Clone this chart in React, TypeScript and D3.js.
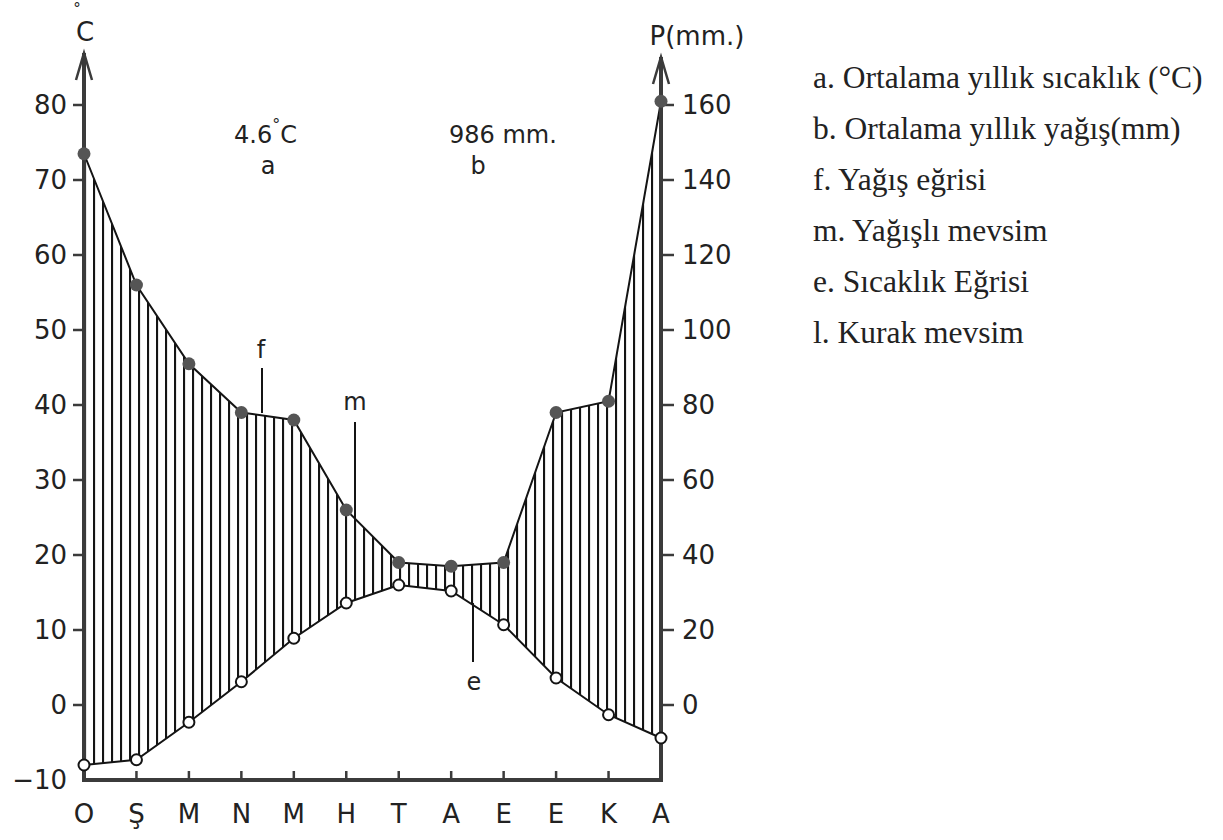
import React, { useRef, useEffect } from "react";
import * as d3 from "d3";

// Walter-Lieth style climate diagram (P = 2T)
const months = ["O", "Ş", "M", "N", "M", "H", "T", "A", "E", "E", "K", "A"];
const temperature = [-8, -7.3, -2.3, 3.1, 8.9, 13.6, 16, 15.2, 10.7, 3.6, -1.3, -4.4];
const precipitation = [147, 112, 91, 78, 76, 52, 38, 37, 38, 78, 81, 161];
const tempTicks = [-10, 0, 10, 20, 30, 40, 50, 60, 70, 80];
const precipTicks = [0, 20, 40, 60, 80, 100, 120, 140, 160];
const meanTemp = "4.6";
const annualPrecip = "986";
const legendItems = [
  "a. Ortalama yıllık sıcaklık (°C)",
  "b. Ortalama yıllık yağış(mm)",
  "f. Yağış eğrisi",
  "m. Yağışlı mevsim",
  "e. Sıcaklık Eğrisi",
  "l. Kurak mevsim",
];

const App = () => {
  const svgRef = useRef<SVGSVGElement>(null);
  const width = 1223;
  const height = 840;

  useEffect(() => {
    const svg = d3.select(svgRef.current);
    svg.selectAll("*").remove();

    const sans = "'DejaVu Sans', sans-serif";
    const serif = "'Liberation Serif', 'Times New Roman', serif";
    const axisColor = "#3b3b3b";
    const ink = "#141414";

    const x = d3.scaleLinear().domain([0, months.length - 1]).range([84, 661]);
    const yT = d3.scaleLinear().domain([-10, 80]).range([780, 105]);
    const yP = d3.scaleLinear().domain([0, 160]).range([705, 105]);

    svg.append("rect").attr("width", width).attr("height", height).attr("fill", "#fff");

    // vertical hatching between the two curves
    const pat = svg
      .append("defs")
      .append("pattern")
      .attr("id", "hatch")
      .attr("patternUnits", "userSpaceOnUse")
      .attr("x", 84)
      .attr("y", 0)
      .attr("width", 9)
      .attr("height", 10);
    pat
      .append("line")
      .attr("x1", 1)
      .attr("x2", 1)
      .attr("y1", 0)
      .attr("y2", 10)
      .attr("stroke", ink)
      .attr("stroke-width", 2.2);

    const area = d3
      .area<number>()
      .x((_, i) => x(i))
      .y0((_, i) => yT(temperature[i]))
      .y1((d) => yP(d));
    svg.append("path").datum(precipitation).attr("d", area).attr("fill", "url(#hatch)");

    const tempLine = d3
      .line<number>()
      .x((_, i) => x(i))
      .y((d) => yT(d));
    const precipLine = d3
      .line<number>()
      .x((_, i) => x(i))
      .y((d) => yP(d));

    svg
      .append("path")
      .datum(temperature)
      .attr("d", tempLine)
      .attr("fill", "none")
      .attr("stroke", ink)
      .attr("stroke-width", 2);
    svg
      .append("path")
      .datum(precipitation)
      .attr("d", precipLine)
      .attr("fill", "none")
      .attr("stroke", ink)
      .attr("stroke-width", 2);

    // axes
    const [x0, x1] = x.range();
    svg
      .append("path")
      .attr("d", `M${x0 - 2},${yT(-10)}H${x1 + 2}`)
      .attr("stroke", axisColor)
      .attr("stroke-width", 4)
      .attr("fill", "none");
    svg
      .append("path")
      .attr("d", `M${x0},${yT(-10) + 2}V53`)
      .attr("stroke", axisColor)
      .attr("stroke-width", 4)
      .attr("fill", "none");
    svg
      .append("path")
      .attr("d", `M${x1},${yT(-10) + 2}V57`)
      .attr("stroke", axisColor)
      .attr("stroke-width", 4)
      .attr("fill", "none");
    svg
      .append("path")
      .attr("d", `M${x0 - 8},80L${x0},53L${x0 + 8},80`)
      .attr("stroke", axisColor)
      .attr("stroke-width", 2.5)
      .attr("fill", "none");
    svg
      .append("path")
      .attr("d", `M${x1 - 8},84L${x1},57L${x1 + 8},84`)
      .attr("stroke", axisColor)
      .attr("stroke-width", 2.5)
      .attr("fill", "none");

    // left ticks (°C)
    const fmt = d3.format("d");
    svg
      .append("g")
      .selectAll("line")
      .data(tempTicks.filter((v) => v > -10))
      .join("line")
      .attr("x1", x0 - 11)
      .attr("x2", x0)
      .attr("y1", (d) => yT(d))
      .attr("y2", (d) => yT(d))
      .attr("stroke", axisColor)
      .attr("stroke-width", 2.5);
    svg
      .append("g")
      .selectAll("text")
      .data(tempTicks)
      .join("text")
      .attr("x", x0 - 17)
      .attr("y", (d) => yT(d))
      .attr("dy", "0.36em")
      .attr("text-anchor", "end")
      .attr("font-family", sans)
      .attr("font-size", 26)
      .attr("fill", "#222")
      .text((d) => fmt(d));

    // right ticks (mm)
    svg
      .append("g")
      .selectAll("line")
      .data(precipTicks)
      .join("line")
      .attr("x1", x1)
      .attr("x2", x1 + 13)
      .attr("y1", (d) => yP(d))
      .attr("y2", (d) => yP(d))
      .attr("stroke", axisColor)
      .attr("stroke-width", 2.5);
    svg
      .append("g")
      .selectAll("text")
      .data(precipTicks)
      .join("text")
      .attr("x", x1 + 21)
      .attr("y", (d) => yP(d))
      .attr("dy", "0.36em")
      .attr("font-family", sans)
      .attr("font-size", 26)
      .attr("fill", "#222")
      .text((d) => fmt(d));

    // month ticks and labels
    svg
      .append("g")
      .selectAll("line")
      .data(months.slice(1, -1))
      .join("line")
      .attr("x1", (_, i) => x(i + 1))
      .attr("x2", (_, i) => x(i + 1))
      .attr("y1", yT(-10))
      .attr("y2", yT(-10) - 9)
      .attr("stroke", axisColor)
      .attr("stroke-width", 2.5);
    svg
      .append("g")
      .selectAll("text")
      .data(months)
      .join("text")
      .attr("x", (_, i) => x(i))
      .attr("y", 823)
      .attr("text-anchor", "middle")
      .attr("font-family", sans)
      .attr("font-size", 26)
      .attr("fill", "#222")
      .text((d) => d);

    // axis titles
    svg.append("text").attr("x", x0 + 1).attr("y", 41).attr("text-anchor", "middle")
      .attr("font-family", sans).attr("font-size", 26).attr("fill", "#222").text("C");
    svg.append("text").attr("x", x0 - 7).attr("y", 14).attr("text-anchor", "middle")
      .attr("font-family", sans).attr("font-size", 15).attr("fill", "#222").text("°");
    svg.append("text").attr("x", x1 + 36).attr("y", 45).attr("text-anchor", "middle")
      .attr("font-family", sans).attr("font-size", 26).attr("fill", "#222").text("P(mm.)");

    // points
    svg
      .append("g")
      .selectAll("circle")
      .data(precipitation)
      .join("circle")
      .attr("cx", (_, i) => x(i))
      .attr("cy", (d) => yP(d))
      .attr("r", 6.5)
      .attr("fill", "#555");
    svg
      .append("g")
      .selectAll("circle")
      .data(temperature)
      .join("circle")
      .attr("cx", (_, i) => x(i))
      .attr("cy", (d) => yT(d))
      .attr("r", 5.5)
      .attr("fill", "#fff")
      .attr("stroke", ink)
      .attr("stroke-width", 2);

    // annotations
    const note = (tx: number, ty: number, s: string, anchor = "middle") =>
      svg.append("text").attr("x", tx).attr("y", ty).attr("text-anchor", anchor)
        .attr("font-family", sans).attr("font-size", 24).attr("fill", "#222").text(s);
    const mt = svg.append("text").attr("x", 234).attr("y", 143)
      .attr("font-family", sans).attr("font-size", 24).attr("fill", "#222");
    mt.append("tspan").text(meanTemp);
    mt.append("tspan").attr("dy", -13).attr("font-size", 16).text("°");
    mt.append("tspan").attr("dy", 13).text("C");
    note(268, 174, "a");
    note(449, 143, `${annualPrecip} mm.`, "start");
    note(478, 174, "b");
    note(261, 358, "f");
    note(355, 410, "m");
    note(474, 690, "e");

    const pointer = (px: number, ya: number, yb: number) =>
      svg.append("line").attr("x1", px).attr("x2", px).attr("y1", ya).attr("y2", yb)
        .attr("stroke", ink).attr("stroke-width", 2);
    pointer(262, 368, 413);
    pointer(355, 422, 545);
    pointer(473, 603, 662);

    // legend
    svg
      .append("g")
      .selectAll("text")
      .data(legendItems)
      .join("text")
      .attr("x", 813)
      .attr("y", (_, i) => 88 + i * 51)
      .attr("font-family", serif)
      .attr("font-size", 31.5)
      .attr("fill", "#222")
      .text((d) => d);
  }, []);

  return (
    <div style={{ position: "absolute", left: 0, top: 0 }}>
      <svg ref={svgRef} width={width} height={height} style={{ display: "block" }} />
    </div>
  );
};

export default App;
